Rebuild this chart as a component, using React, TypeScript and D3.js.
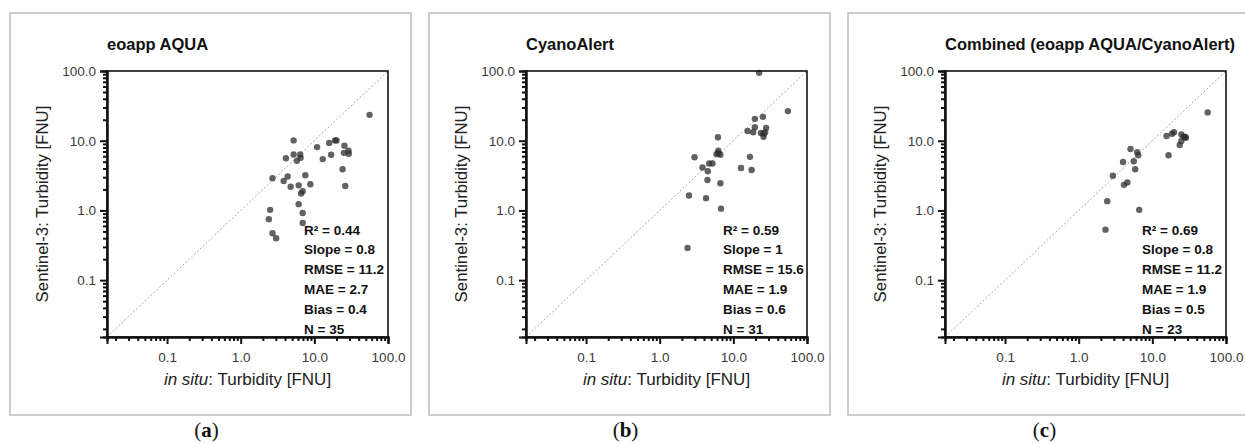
import React, { useEffect, useRef } from 'react';
import * as d3 from 'd3';

// panel titles / captions
const titles = ['eoapp AQUA', 'CyanoAlert', 'Combined (eoapp AQUA/CyanoAlert)'];
const captions = ['a', 'b', 'c'];

// log axis ticks
const majorTicks = [0.1, 1, 10, 100];
const tickLabels = ['0.1', '1.0', '10.0', '100.0'];

// (a) eoapp AQUA: in situ vs Sentinel-3
const aquaInSitu = [56.2, 5.23, 5.23, 6.44, 6.5, 5.8, 4.11, 10.9, 15.9, 19.1, 20, 25.6, 25.2, 29.1, 29.3, 16.9, 13.0, 24.2, 26.3, 2.7, 3.83, 4.34, 4.77, 6.12, 7.54, 8.83, 6.95, 6.6, 6.12, 6.95, 6.95, 2.51, 2.41, 2.7, 3.03];
const aquaSentinel = [23.5, 10.1, 6.35, 6.35, 5.68, 5.14, 5.6, 8.1, 9.3, 10.1, 10.1, 8.5, 6.7, 7.2, 6.5, 6.3, 5.45, 3.9, 2.24, 2.89, 2.64, 3.06, 2.19, 2.29, 3.19, 2.37, 1.89, 1.75, 1.23, 0.92, 0.66, 1.02, 0.75, 0.47, 0.40];
const aquaStats = ['R² = 0.44', 'Slope = 0.8', 'RMSE = 11.2', 'MAE = 2.7', 'Bias = 0.4', 'N = 35'];

// (b) CyanoAlert
const cyanoInSitu = [22.4, 55, 19.6, 25.2, 19.6, 15.6, 18.6, 23.7, 25.7, 27.9, 25.7, 27, 6.18, 2.97, 6.25, 5.89, 6.67, 6.25, 4.7, 5.2, 3.81, 4.5, 4.45, 6.67, 2.5, 4.26, 6.8, 2.39, 16.8, 12.7, 17.7];
const cyanoSentinel = [94, 26.6, 20.6, 22, 15.6, 13.8, 13.2, 12.9, 12.6, 15.3, 11.4, 13.2, 11.2, 5.8, 7.2, 6.43, 6.28, 6.6, 4.71, 4.71, 4.13, 3.65, 2.73, 2.45, 1.64, 1.5, 1.06, 0.29, 5.87, 4.07, 3.81];
const cyanoStats = ['R² = 0.59', 'Slope = 1', 'RMSE = 15.6', 'MAE = 1.9', 'Bias = 0.6', 'N = 31'];

// (c) Combined
const combInSitu = [56.4, 15.6, 18.5, 19.7, 24.8, 26.7, 28.1, 28.5, 24.8, 23.5, 16.6, 5.05, 6.22, 6.43, 4.0, 5.6, 5.85, 2.91, 4.12, 4.59, 2.44, 6.64, 2.31];
const combSentinel = [25.5, 11.7, 12.6, 13.2, 12.3, 11.4, 11.3, 11, 9.9, 8.7, 6.2, 7.6, 6.86, 6.2, 4.96, 5.08, 3.89, 3.14, 2.33, 2.52, 1.36, 1.02, 0.53];
const combStats = ['R² = 0.69', 'Slope = 0.8', 'RMSE = 11.2', 'MAE = 1.9', 'Bias = 0.5', 'N = 23'];

const panelX = [10, 429, 848];

const App = () => {
  const svgRef = useRef<SVGSVGElement>(null);

  useEffect(() => {
    const svg = d3.select(svgRef.current);
    svg.selectAll('*').remove();

    const panels = [
      { xs: aquaInSitu, ys: aquaSentinel, stats: aquaStats },
      { xs: cyanoInSitu, ys: cyanoSentinel, stats: cyanoStats },
      { xs: combInSitu, ys: combSentinel, stats: combStats },
    ];

    const pw = 401, ph = 402;
    const margin = { left: 97, top: 58 };
    const width = 281, height = 266;
    const domain = [0.0153, 100];
    const sans = 'Liberation Sans, Arial, sans-serif';

    const minorTicks: number[] = [];
    [-2, -1, 0, 1].forEach(e => {
      for (let k = 2; k <= 9; k++) {
        const v = k * Math.pow(10, e);
        if (v >= domain[0] && v < 100) minorTicks.push(v);
      }
    });

    panels.forEach((p, i) => {
      const g = svg.append('g').attr('transform', `translate(${panelX[i]},13)`);

      // panel frame
      g.append('rect')
        .attr('width', pw).attr('height', ph)
        .attr('fill', 'white').attr('stroke', '#bdbdbd').attr('stroke-width', 1.5);

      const plot = g.append('g').attr('transform', `translate(${margin.left},${margin.top})`);

      const x = d3.scaleLog().domain(domain).range([0, width]);
      const y = d3.scaleLog().domain(domain).range([height, 0]);

      // 1:1 line
      plot.append('line')
        .attr('x1', x(domain[0])).attr('y1', y(domain[0]))
        .attr('x2', x(domain[1])).attr('y2', y(domain[1]))
        .attr('stroke', '#a8a8a8').attr('stroke-width', 1).attr('stroke-dasharray', '2,2');

      // points
      plot.selectAll('circle')
        .data(p.xs.map((v, j) => [v, p.ys[j]]))
        .join('circle')
        .attr('cx', d => x(d[0]))
        .attr('cy', d => y(d[1]))
        .attr('r', 3.2)
        .attr('fill', '#2e2e2e')
        .attr('fill-opacity', 0.75);

      // box
      plot.append('rect')
        .attr('width', width).attr('height', height)
        .attr('fill', 'none').attr('stroke', '#111').attr('stroke-width', 1.6);

      // axes
      const xAxis = plot.append('g').attr('transform', `translate(0,${height})`);
      xAxis.call(d3.axisBottom(x).tickValues(minorTicks).tickSize(4).tickFormat(() => ''));
      xAxis.append('g').call(d3.axisBottom(x).tickValues(majorTicks).tickSize(7).tickPadding(8)
        .tickFormat((d, k) => tickLabels[k]));
      const yAxis = plot.append('g');
      yAxis.call(d3.axisLeft(y).tickValues(minorTicks).tickSize(4).tickFormat(() => ''));
      yAxis.append('g').call(d3.axisLeft(y).tickValues(majorTicks).tickSize(7).tickPadding(4)
        .tickFormat((d, k) => tickLabels[k]));
      plot.selectAll('.domain').attr('stroke', '#111').attr('stroke-width', 2);
      plot.selectAll('.tick line').attr('stroke', '#111').attr('stroke-width', 2);
      plot.selectAll('.tick text')
        .attr('font-family', sans)
        .attr('font-size', 13.5).attr('fill', '#3a3a3a');

      // stats
      const st = plot.append('text')
        .attr('font-family', sans)
        .attr('font-size', 13.5).attr('font-weight', 'bold').attr('fill', '#111');
      p.stats.forEach((s, k) => {
        st.append('tspan').attr('x', 197).attr('y', 163.5 + k * 19.8).text(s);
      });

      // title
      g.append('text')
        .attr('x', margin.left).attr('y', 37)
        .attr('font-family', sans)
        .attr('font-size', 16.5).attr('font-weight', 'bold').attr('fill', '#111')
        .text(titles[i]);

      // axis titles
      g.append('text')
        .attr('transform', `translate(38,${margin.top + height / 2}) rotate(-90)`)
        .attr('text-anchor', 'middle')
        .attr('font-family', sans)
        .attr('font-size', 16.8).attr('fill', '#222')
        .text('Sentinel-3: Turbidity [FNU]');

      const xt = g.append('text')
        .attr('x', margin.left + width / 2).attr('y', 372)
        .attr('text-anchor', 'middle')
        .attr('font-family', sans)
        .attr('font-size', 17).attr('fill', '#222');
      xt.append('tspan').attr('font-style', 'italic').text('in situ');
      xt.append('tspan').text(': Turbidity [FNU]');

      // caption
      const cap = svg.append('text')
        .attr('x', panelX[i] + pw / 2 - 4).attr('y', 437)
        .attr('text-anchor', 'middle')
        .attr('font-family', 'Liberation Serif, DejaVu Serif, serif')
        .attr('font-size', 21).attr('fill', '#111');
      cap.append('tspan').text('(');
      cap.append('tspan').attr('font-weight', 'bold').text(captions[i]);
      cap.append('tspan').text(')');
    });
  }, []);

  return (
    <svg ref={svgRef} width={1245} height={444}
      style={{ position: 'absolute', left: 0, top: 0, background: 'white' }} />
  );
};

export default App;
